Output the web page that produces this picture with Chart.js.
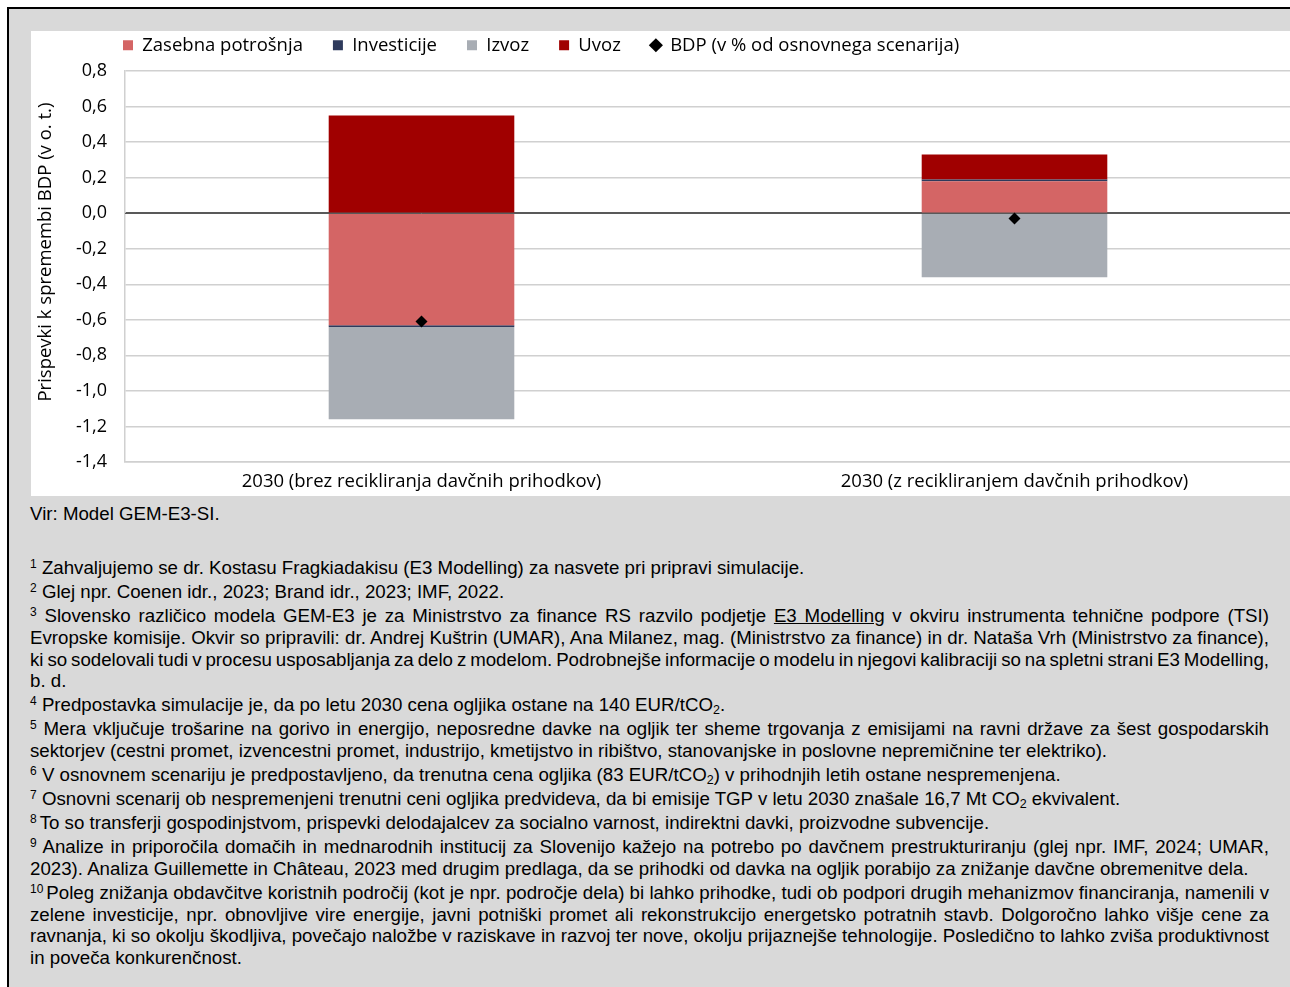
<!DOCTYPE html>
<html><head><meta charset="utf-8">
<script src="https://cdn.jsdelivr.net/npm/chart.js@4.4.1/dist/chart.umd.min.js"></script>
<style>
html,body{margin:0;padding:0;width:1290px;height:987px;overflow:hidden;background:#fff;}
#frame{position:absolute;left:7px;top:7px;width:1400px;height:1100px;border-left:2px solid #000;border-top:2px solid #000;background:#d9d9d9;}
#chartbox{position:absolute;left:31px;top:31px;width:1300px;height:465px;background:#fff;overflow:hidden;}
#cwrap{position:absolute;left:0;top:0;width:1280px;height:465px;}
.txt{position:absolute;left:30px;width:1239px;font-family:'Liberation Sans',Arial,sans-serif;font-size:18.7px;line-height:21.7px;color:#000;}
#vir{top:503px;}
#notes{top:555px;}
#notes p{margin:0 0 2.3px 0;}
#notes .j{text-align:justify;text-align-last:justify;white-space:nowrap;word-spacing:-1.5px;}
#notes .l{white-space:nowrap;}
sup{font-size:12px;line-height:0;vertical-align:6px;}
sub{font-size:12.5px;line-height:0;vertical-align:-3px;}
u{text-decoration:underline;}
</style></head>
<body>
<div id="frame"></div>
<div id="chartbox"><div id="cwrap"><canvas id="c"></canvas></div></div>
<div class="txt" id="vir">Vir: Model GEM-E3-SI.</div>
<div class="txt" id="notes">
<p><div class="l"><sup>1</sup> Zahvaljujemo se dr. Kostasu Fragkiadakisu (E3 Modelling) za nasvete pri pripravi simulacije.</div></p>
<p><div class="l"><sup>2</sup> Glej npr. Coenen idr., 2023; Brand idr., 2023; IMF, 2022.</div></p>
<p><div class="j"><sup>3</sup> Slovensko različico modela GEM-E3 je za Ministrstvo za finance RS razvilo podjetje <u>E3 Modelling</u> v okviru instrumenta tehnične podpore (TSI)</div>
<div class="j">Evropske komisije. Okvir so pripravili: dr. Andrej Kuštrin (UMAR), Ana Milanez, mag. (Ministrstvo za finance) in dr. Nataša Vrh (Ministrstvo za finance),</div>
<div class="j">ki so sodelovali tudi v procesu usposabljanja za delo z modelom. Podrobnejše informacije o modelu in njegovi kalibraciji so na spletni strani E3 Modelling,</div>
<div class="l">b. d.</div></p>
<p><div class="l"><sup>4</sup> Predpostavka simulacije je, da po letu 2030 cena ogljika ostane na 140 EUR/tCO<sub>2</sub>.</div></p>
<p><div class="j"><sup>5</sup> Mera vključuje trošarine na gorivo in energijo, neposredne davke na ogljik ter sheme trgovanja z emisijami na ravni države za šest gospodarskih</div>
<div class="l">sektorjev (cestni promet, izvencestni promet, industrijo, kmetijstvo in ribištvo, stanovanjske in poslovne nepremičnine ter elektriko).</div></p>
<p><div class="l"><sup>6</sup> V osnovnem scenariju je predpostavljeno, da trenutna cena ogljika (83 EUR/tCO<sub>2</sub>) v prihodnjih letih ostane nespremenjena.</div></p>
<p><div class="l"><sup>7</sup> Osnovni scenarij ob nespremenjeni trenutni ceni ogljika predvideva, da bi emisije TGP v letu 2030 znašale 16,7 Mt CO<sub>2</sub> ekvivalent.</div></p>
<p><div class="l"><sup style="margin-right:3px">8</sup>To so transferji gospodinjstvom, prispevki delodajalcev za socialno varnost, indirektni davki, proizvodne subvencije.</div></p>
<p><div class="j"><sup>9</sup> Analize in priporočila domačih in mednarodnih institucij za Slovenijo kažejo na potrebo po davčnem prestrukturiranju (glej npr. IMF, 2024; UMAR,</div>
<div class="l">2023). Analiza Guillemette in Château, 2023 med drugim predlaga, da se prihodki od davka na ogljik porabijo za znižanje davčne obremenitve dela.</div></p>
<p><div class="j"><sup style="margin-right:3px">10</sup>Poleg znižanja obdavčitve koristnih področij (kot je npr. področje dela) bi lahko prihodke, tudi ob podpori drugih mehanizmov financiranja, namenili v</div>
<div class="j">zelene investicije, npr. obnovljive vire energije, javni potniški promet ali rekonstrukcijo energetsko potratnih stavb. Dolgoročno lahko višje cene za</div>
<div class="j">ravnanja, ki so okolju škodljiva, povečajo naložbe v raziskave in razvoj ter nove, okolju prijaznejše tehnologije. Posledično to lahko zviša produktivnost</div>
<div class="l">in poveča konkurenčnost.</div></p>
</div>
<script>
// ---- data ----
const categories = ['2030 (brez recikliranja davčnih prihodkov)', '2030 (z recikliranjem davčnih prihodkov)'];
const zasebnaPotrosnja = [-0.63, 0.18];
const investicije = [-0.01, 0.01];
const izvoz = [-0.52, -0.36];
const uvoz = [0.55, 0.14];
const bdp = [-0.61, -0.03];
const seriesNames = ['Zasebna potrošnja', 'Investicije', 'Izvoz', 'Uvoz', 'BDP (v % od osnovnega scenarija)'];
const yMin = -1.4, yMax = 0.8, yStep = 0.2;
const yTitle = 'Prispevki k spremembi BDP (v o. t.)';

Chart.defaults.font.family = "'Open Sans', sans-serif";
Chart.defaults.color = '#000';

const legendOffset = {
  id: 'legendOffset',
  afterLayout(chart) {
    const lg = chart.legend; if (!lg) return;
    lg.left += 62; lg.right += 62; lg.top -= 25;
  }
};
const zeroLine = {
  id: 'zeroLine',
  beforeDatasetDraw(chart, args) {
    if (args.meta.type !== 'line') return;
    const y = Math.round(chart.scales.y.getPixelForValue(0)) + 0.5;
    const {left, right} = chart.chartArea;
    const ctx = chart.ctx;
    ctx.save(); ctx.strokeStyle = '#595959'; ctx.lineWidth = 1;
    ctx.beginPath(); ctx.moveTo(left, y); ctx.lineTo(right, y); ctx.stroke(); ctx.restore();
  }
};

const barCommon = {type: 'bar', stack: 's', barPercentage: 0.313, categoryPercentage: 1, borderWidth: 0, order: 1};
new Chart(document.getElementById('c'), {
  data: {
    labels: categories,
    datasets: [
      {...barCommon, label: seriesNames[0], data: zasebnaPotrosnja, backgroundColor: '#d46565'},
      {...barCommon, label: seriesNames[1], data: investicije, backgroundColor: '#2e3a5c'},
      {...barCommon, label: seriesNames[2], data: izvoz, backgroundColor: '#a8adb4'},
      {...barCommon, label: seriesNames[3], data: uvoz, backgroundColor: '#a00000'},
      {type: 'line', label: seriesNames[4], data: bdp, stack: 'bdp', showLine: false, order: 0,
       pointStyle: 'rectRot', pointRadius: 6, pointHoverRadius: 6, pointBackgroundColor: '#000',
       pointBorderColor: '#000', pointBorderWidth: 0, backgroundColor: '#000', borderColor: '#000'}
    ]
  },
  options: {
    responsive: true, maintainAspectRatio: false, animation: false,
    layout: {padding: 0, autoPadding: false},
    plugins: {
      tooltip: {enabled: false},
      legend: {
        display: true, position: 'top', align: 'start', maxHeight: 40,
        labels: {
          usePointStyle: true, boxWidth: 10, boxHeight: 10, padding: 30,
          font: {size: 18.5}, color: '#000',
          sort: (a, b) => a.datasetIndex - b.datasetIndex,
          generateLabels(chart) {
            const items = Chart.defaults.plugins.legend.labels.generateLabels(chart);
            items.forEach(it => {
              const ds = chart.data.datasets[it.datasetIndex];
              it.pointStyle = ds.type === 'line' ? 'rectRot' : 'rect';
              it.lineWidth = 0; it.strokeStyle = 'rgba(0,0,0,0)';
            });
            return items;
          }
        }
      }
    },
    scales: {
      x: {
        stacked: true,
        grid: {display: false, drawTicks: false},
        border: {display: true, color: '#d0d0d0', width: 1.5},
        ticks: {font: {size: 18.5}, color: '#000', padding: 9, maxRotation: 0, autoSkip: false},
        afterFit(s) { s.height = 34; }
      },
      y: {
        stacked: true, min: yMin, max: yMax,
        ticks: {stepSize: yStep, font: {size: 18}, color: '#000', padding: 18,
          callback: v => (Math.abs(v) < 1e-9 ? 0 : v).toFixed(1).replace('.', ',')},
        grid: {color: ctx => (ctx.tick && Math.abs(ctx.tick.value) < 1e-9) ? '#595959' : '#d0d0d0', lineWidth: 1.5, drawTicks: false},
        border: {display: true, color: '#d0d0d0', width: 1.5},
        title: {display: true, text: '\u00a0\u00a0\u00a0\u00a0\u00a0\u00a0' + yTitle, font: {size: 18.5}, color: '#000', padding: {top: 4, bottom: 0}},
        afterFit(s) { s.width = 94; }
      }
    }
  },
  plugins: [legendOffset, zeroLine]
});
</script>
</body></html>
